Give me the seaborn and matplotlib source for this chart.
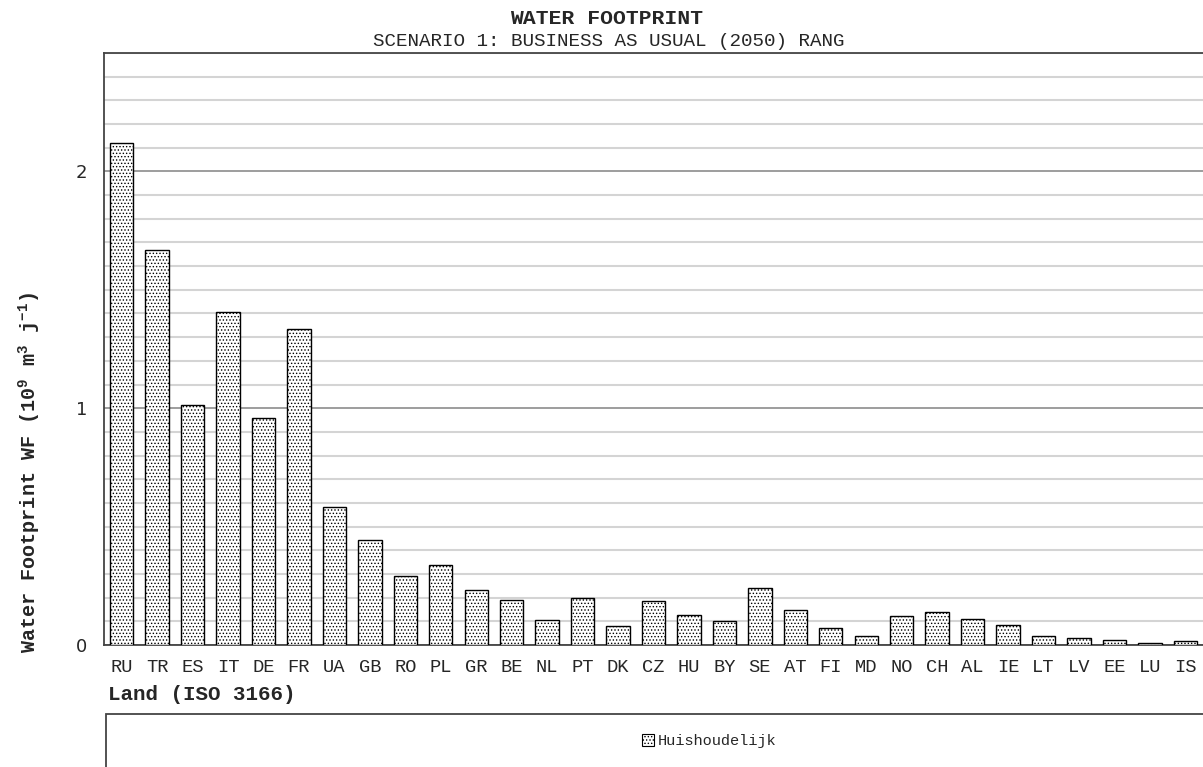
""" Water footprint per country, scenario 1 (business as usual, 2050) """

import matplotlib
matplotlib.use("Agg")
import matplotlib.pyplot as plt
import seaborn as sns
from matplotlib.patches import Patch, Rectangle
from matplotlib.ticker import MultipleLocator

# data (10^9 m3 per year)
countries = ["RU", "TR", "ES", "IT", "DE", "FR", "UA", "GB", "RO", "PL",
             "GR", "BE", "NL", "PT", "DK", "CZ", "HU", "BY", "SE", "AT",
             "FI", "MD", "NO", "CH", "AL", "IE", "LT", "LV", "EE", "LU", "IS"]
huishoudelijk = [2.12, 1.667, 1.015, 1.406, 0.96, 1.335, 0.582, 0.444, 0.292, 0.336,
                 0.232, 0.191, 0.104, 0.197, 0.081, 0.187, 0.125, 0.100, 0.240, 0.147,
                 0.070, 0.038, 0.121, 0.138, 0.109, 0.083, 0.038, 0.028, 0.022, 0.009, 0.017]

title = "WATER FOOTPRINT"
subtitle = "SCENARIO 1: BUSINESS AS USUAL (2050) RANG"
series_name = "Huishoudelijk"

sns.set_style("white")
plt.rcParams["font.family"] = ["Liberation Mono", "DejaVu Sans Mono"]
plt.rcParams["mathtext.default"] = "regular"
plt.rcParams["hatch.linewidth"] = 0.6
plt.rcParams["hatch.color"] = "black"

W, H = 1203, 767
fig = plt.figure(figsize=(W / 100, H / 100), dpi=100)
ax = fig.add_axes([104 / W, (H - 645) / H, 1 - 104 / W, (645 - 53) / H])

sns.barplot(x=countries, y=huishoudelijk, color="white", edgecolor="black",
            linewidth=1.0, width=0.66, saturation=1, ax=ax, zorder=3)
for bar in ax.patches:
    bar.set_hatch(".....")

# axes limits and grid
ax.set_ylim(0, 2.5)
ax.set_xlim(-0.5, -0.5 + (W - 104) / 35.57)
ax.yaxis.set_major_locator(MultipleLocator(1))
ax.yaxis.set_minor_locator(MultipleLocator(0.1))
ax.grid(which="minor", axis="y", color="#d4d4d4", lw=1.5, zorder=0)
ax.grid(which="major", axis="y", color="#8c8c8c", lw=1.2, zorder=0)
ax.set_axisbelow(True)

# x ticks: labels at the centre, tick marks at the category borders
ax.set_xticks(range(len(countries)))
ax.set_xticks([i - 0.5 for i in range(len(countries) + 1)], minor=True)
ax.tick_params(axis="x", which="major", length=0, pad=10, labelsize=13.5)
ax.tick_params(axis="x", which="minor", length=6, width=1.2, color="#333333", direction="out")
ax.tick_params(axis="y", which="major", length=12, width=1.2, color="#333333",
               direction="inout", pad=6, labelsize=13, labelfontfamily="DejaVu Sans")
ax.tick_params(axis="y", which="minor", length=5, width=1.2, color="#333333", direction="in")

for side in ["left", "bottom", "top"]:
    ax.spines[side].set_color("#444444")
    ax.spines[side].set_linewidth(1.3)
ax.spines["right"].set_visible(False)

ax.set_xlabel("")
ax.set_ylabel("")

# titles and labels
fig.text(607 / W, 1 - 19 / H, title, ha="center", va="center",
         fontsize=15.4, fontweight="bold")
fig.text(609 / W, 1 - 42 / H, subtitle, ha="center", va="center", fontsize=13.9)
fig.text(30 / W, 1 - 653 / H, "Water Footprint WF (10$^{9}$ m$^{3}$ j$^{-1}$)",
         rotation=90, ha="center", va="bottom", fontsize=14.5, fontweight="bold")
fig.text(108 / W, 1 - 695 / H, "Land (ISO 3166)", ha="left", va="center",
         fontsize=15, fontweight="bold")

# legend box
fig.patches.append(Rectangle((106 / W, -0.02), 1.0, 0.02 + (H - 714) / H,
                             transform=fig.transFigure, facecolor="white",
                             edgecolor="#444444", lw=1.3))
handle = Patch(facecolor="white", edgecolor="black", hatch=".....", lw=0.8)
fig.legend(handles=[handle], labels=[series_name], loc="center",
           bbox_to_anchor=(709 / W, 1 - 741 / H), frameon=False,
           handlelength=0.8, handleheight=0.8, handletextpad=0.2, fontsize=11)

plt.savefig("out.png", dpi=100)
